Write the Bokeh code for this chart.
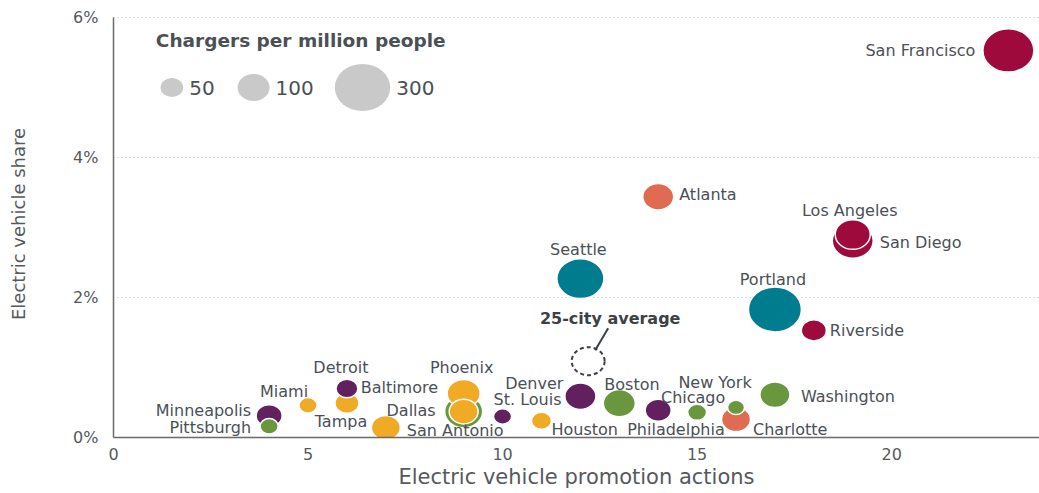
import math
from bokeh.plotting import figure
from bokeh.models import ColumnDataSource, FixedTicker, Label
from bokeh.core.properties import value
from bokeh.embed import file_html
from bokeh.resources import INLINE

# ---- data ----
cities = ["San Francisco", "Atlanta", "Los Angeles", "San Diego", "Seattle", "Portland",
          "Riverside", "Detroit", "Baltimore", "Miami", "Minneapolis", "Pittsburgh",
          "Tampa", "San Antonio", "Phoenix", "Dallas", "St. Louis", "Houston", "Denver",
          "Boston", "Philadelphia", "Chicago", "New York", "Charlotte", "Washington"]
actions = [23, 14, 19, 19, 12, 17, 18, 6, 9, 5, 4, 4, 6, 7, 9, 9, 10, 11, 12, 13, 14, 15, 16, 16, 17]
ev_share = [5.53, 3.44, 2.90, 2.81, 2.27, 1.83, 1.53, 0.70, 0.37, 0.46, 0.31, 0.16,
            0.49, 0.14, 0.63, 0.37, 0.30, 0.24, 0.59, 0.49, 0.39, 0.36, 0.43, 0.26, 0.61]
chargers = [254, 94, 120, 164, 216, 274, 61, 47, 141, 32, 66, 32, 56, 82, 106, 82,
            32, 39, 94, 100, 66, 35, 28, 82, 88]
group = ["red", "coral", "red", "red", "teal", "teal", "red", "purple", "green", "yellow",
         "purple", "green", "yellow", "yellow", "yellow", "yellow", "purple", "yellow",
         "purple", "green", "purple", "green", "green", "coral", "green"]

avg_actions = 12.2
avg_share = 1.09
avg_chargers = 106

legend_values = [50, 100, 300]
x_ticks = [0, 5, 10, 15, 20]
y_ticks = [0, 2, 4, 6]

# ---- styles ----
palette = {"red": "#9E0A3B", "coral": "#E06B53", "teal": "#007C8F",
           "purple": "#62215E", "yellow": "#F0AA25", "green": "#6A973D"}
KW, KH = 3.2, 2.72  # px per sqrt(chargers)
text_color = "#4B5056"
FONT = "DejaVu Sans"

W, H = 1039, 493
BL, BR, BT, BB = 113, 0, 10, 56
X_END, Y_END = 23.8, 6.1
px_x = (W - BL - BR) / X_END
px_y = (H - BT - BB) / Y_END

# label placement: (dx px, dy px (down +), align)
label_pos = {
    "San Francisco": (-33, 0, "right"), "Atlanta": (21, -2, "left"),
    "Los Angeles": (-3, -24, "center"), "San Diego": (27, 2, "left"),
    "Seattle": (-2, -29, "center"), "Portland": (-2, -30, "center"),
    "Riverside": (16, 0, "left"), "Detroit": (-6, -21, "center"),
    "Baltimore": (-103, -24, "left"), "Miami": (-24, -14, "center"),
    "Minneapolis": (-18, -5, "right"), "Pittsburgh": (-18, 1, "right"),
    "Tampa": (-6, 18, "center"), "San Antonio": (21, 3, "left"),
    "Phoenix": (-2, -26, "center"), "Dallas": (-28, -1, "right"),
    "St. Louis": (-9, -17, "left"), "Houston": (10, 9, "left"),
    "Denver": (-17, -13, "right"), "Boston": (-15, -19, "left"),
    "Philadelphia": (-31, 19, "left"), "Chicago": (-4, -15, "center"),
    "New York": (-21, -25, "center"), "Charlotte": (17, 10, "left"),
    "Washington": (26, 2, "left"),
}

order = sorted(range(len(cities)), key=lambda i: -chargers[i])
src = ColumnDataSource(dict(
    x=[actions[i] for i in order],
    y=[ev_share[i] for i in order],
    w=[KW * math.sqrt(chargers[i]) for i in order],
    h=[KH * math.sqrt(chargers[i]) for i in order],
    c=[palette[group[i]] for i in order],
))

lab = ColumnDataSource(dict(
    x=actions, y=ev_share, t=cities,
    dx=[label_pos[c][0] for c in cities],
    dy=[label_pos[c][1] for c in cities],
    a=[label_pos[c][2] for c in cities],
))

p = figure(width=W, height=H, output_backend="svg", toolbar_location=None,
           x_range=(0, X_END), y_range=(0, Y_END),
           min_border_left=BL, min_border_right=BR, min_border_top=BT, min_border_bottom=BB)
p.outline_line_color = None
p.background_fill_color = "white"

# axes
for ax in (p.xaxis, p.yaxis):
    ax.axis_line_color = "#6A6A6A"
    ax.axis_line_width = 1.5
    ax.major_tick_in = 0
    ax.major_tick_out = 0
    ax.minor_tick_in = 0
    ax.minor_tick_out = 0
    ax.major_label_text_font = FONT
    ax.major_label_text_font_size = "16px"
    ax.major_label_text_color = "#55595E"
    ax.axis_label_text_font = FONT
    ax.axis_label_text_font_style = "normal"
    ax.axis_label_text_color = "#55595E"

p.xaxis.axis_label_text_font_size = "21px"
p.yaxis.axis_label_text_font_size = "18px"
p.xaxis.ticker = FixedTicker(ticks=x_ticks)
p.yaxis.ticker = FixedTicker(ticks=y_ticks)
p.yaxis.major_label_overrides = {t: f"{t}%" for t in y_ticks}
p.yaxis.bounds = (0, 6)
p.xaxis.axis_label = "Electric vehicle promotion actions"
p.yaxis.axis_label = "Electric vehicle share"
p.xaxis.major_label_standoff = 10
p.xaxis.axis_label_standoff = 2
p.yaxis.major_label_standoff = 15
p.yaxis.axis_label_standoff = 41

p.xgrid.grid_line_color = None
p.ygrid.grid_line_color = "#BDBDBD"
p.ygrid.grid_line_dash = "1 3"
p.ygrid.grid_line_width = 1.2

# bubbles
p.ellipse(x="x", y="y", width="w", height="h", width_units="screen", height_units="screen",
          fill_color="c", line_color="white", line_width=1.5, source=src)

# 25-city average
p.ellipse(x=[avg_actions], y=[avg_share],
          width=[KW * math.sqrt(avg_chargers)], height=[KH * math.sqrt(avg_chargers)],
          width_units="screen", height_units="screen",
          fill_color=None, line_color="#3C4146", line_width=2, line_dash="4 3")
p.segment(x0=[avg_actions + 7 / px_x], y0=[avg_share + 11 / px_y],
          x1=[avg_actions + 20 / px_x], y1=[avg_share + 33 / px_y],
          line_color="#3C4146", line_width=2)
p.add_layout(Label(x=avg_actions, y=avg_share, x_offset=22, y_offset=43,
                   text="25-city average", text_font=FONT, text_font_size="16px",
                   text_font_style="bold", text_color="#3C4146",
                   text_align="center", text_baseline="middle"))

# city labels
p.text(x="x", y="y", text="t", x_offset="dx", y_offset="dy", text_align="a",
       text_baseline="middle", text_font=value(FONT), text_font_size="16px",
       text_color=text_color, source=lab)

# size legend
leg_x = [1.5, 3.6, 6.4]
leg_y = 5.0
leg_w = [KW * math.sqrt(v) for v in legend_values]
leg_h = [KH * math.sqrt(v) for v in legend_values]
p.ellipse(x=leg_x, y=[leg_y] * 3, width=leg_w, height=leg_h,
          width_units="screen", height_units="screen",
          fill_color="#C9C9C9", line_color=None)
p.text(x=leg_x, y=[leg_y] * 3, text=[str(v) for v in legend_values],
       x_offset=[w / 2 + 6 for w in leg_w], y_offset=[0, 0, 0],
       text_align="left", text_baseline="middle", text_font=value(FONT),
       text_font_size="20px", text_color=text_color)
p.add_layout(Label(x=leg_x[0], y=leg_y, x_offset=-16, y_offset=47,
                   text="Chargers per million people", text_font=FONT,
                   text_font_size="18.5px", text_font_style="bold",
                   text_color="#4B5056", text_baseline="middle"))

open("out.html", "w").write(file_html(p, INLINE))
